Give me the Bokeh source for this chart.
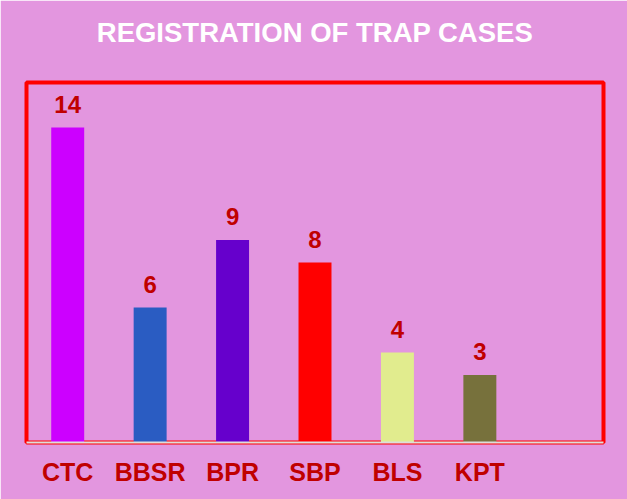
from bokeh.plotting import figure
from bokeh.models import ColumnDataSource, LabelSet, Title, FactorRange
from bokeh.core.properties import value
from bokeh.embed import file_html
from bokeh.resources import INLINE

title_text = "REGISTRATION OF TRAP CASES"
categories = ["CTC", "BBSR", "BPR", "SBP", "BLS", "KPT", " "]
values = [14, 6, 9, 8, 4, 3, 0]
colors = ["#CC00FF", "#2A5CC2", "#6600CC", "#FF0000", "#E1EC8E", "#77713C", "#E396DF"]
labels = ["14", "6", "9", "8", "4", "3", ""]

BG = "#E396DF"
DARK_RED = "#C00000"

src = ColumnDataSource(dict(cat=categories, val=values, col=colors, lab=labels))

p = figure(x_range=FactorRange(*categories, range_padding=0), y_range=(0, 16),
           width=627, height=499, output_backend="svg", toolbar_location=None,
           min_border_left=26, min_border_right=24, min_border_top=82, min_border_bottom=57)
p.background_fill_color = BG
p.border_fill_color = BG
p.outline_line_color = "#FF0000"
p.outline_line_width = 4

p.title.text = title_text
p.title.align = "center"
p.title.text_color = "white"
p.title.text_font = "Liberation Sans"
p.title.text_font_size = "27.5px"
p.title.text_font_style = "bold"
p.title.standoff = 20

# spacer between title and frame
p.add_layout(Title(text=" ", text_font_size="1px", standoff=22, text_color=BG), "above")

p.vbar(x="cat", top="val", width=0.4, color="col", source=src, line_color=None)

p.add_layout(LabelSet(x="cat", y="val", text="lab", source=src, y_offset=15,
                      text_align="center", text_baseline="bottom",
                      text_color=DARK_RED, text_font=value("Liberation Sans"),
                      text_font_style="bold", text_font_size="24px"))

p.yaxis.visible = False
p.xgrid.visible = False
p.ygrid.visible = False
p.xaxis.axis_line_color = "#DDDDDD"
p.xaxis.axis_line_width = 2
p.xaxis.major_tick_line_color = None
p.xaxis.minor_tick_line_color = None
p.xaxis.major_tick_out = 0
p.xaxis.major_label_standoff = 15
p.xaxis.major_label_text_color = DARK_RED
p.xaxis.major_label_text_font = "Liberation Sans"
p.xaxis.major_label_text_font_style = "bold"
p.xaxis.major_label_text_font_size = "25px"

open("out.html", "w").write(file_html(p, INLINE))
